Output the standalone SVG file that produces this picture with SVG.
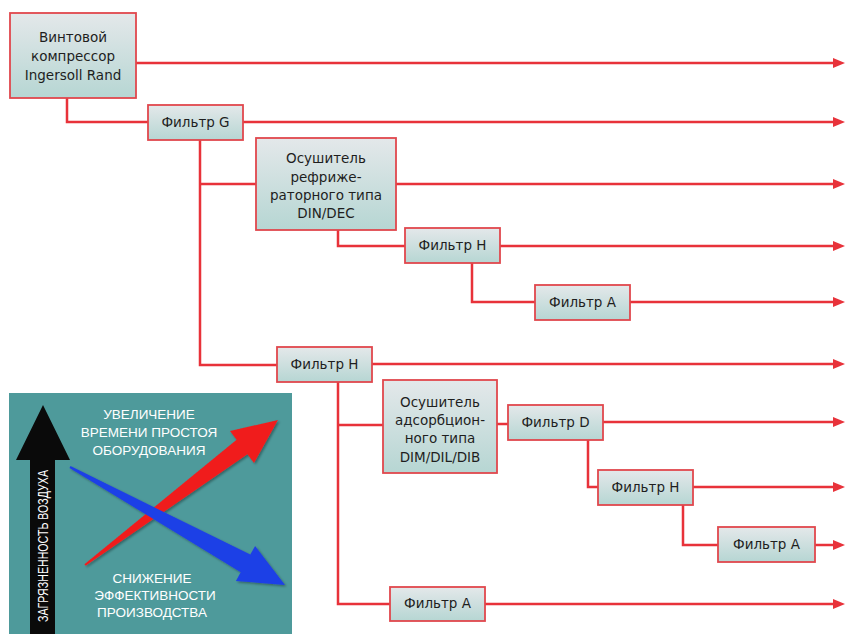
<svg xmlns="http://www.w3.org/2000/svg" width="845" height="634" viewBox="0 0 845 634">
<defs>
<linearGradient id="boxg" x1="0" y1="0" x2="0" y2="1">
<stop offset="0" stop-color="#e4e8ea"/>
<stop offset="1" stop-color="#b6d6d3"/>
</linearGradient>
<marker id="ah" markerUnits="userSpaceOnUse" markerWidth="12" markerHeight="10" refX="1" refY="5" orient="auto">
<path d="M0,0 L12,5 L0,10 Z" fill="#e8323a"/>
</marker>
<filter id="sh" x="-10%" y="-10%" width="130%" height="130%">
<feDropShadow dx="1.5" dy="1.5" stdDeviation="1" flood-color="#000" flood-opacity="0.35"/>
</filter>
</defs>
<style>
.box{fill:url(#boxg);stroke:#e0474d;stroke-width:1.8}
.t{font-family:"DejaVu Sans","Liberation Sans",Arial,sans-serif;font-size:13.5px;fill:#1e1e1e;text-anchor:middle}
.c{fill:none;stroke:#e8323a;stroke-width:2.5}
.a{marker-end:url(#ah)}
.w{font-family:"Liberation Sans",Arial,sans-serif;font-size:13.5px;fill:#fff;text-anchor:middle}
</style>
<rect width="845" height="634" fill="#fff"/>

<g id="connectors">
<path class="c a" d="M136,63 H834"/>
<path class="c" d="M67,98 V122 H148"/>
<path class="c a" d="M243,122 H834"/>
<path class="c" d="M200,140 V365 H277"/>
<path class="c" d="M200,184 H256"/>
<path class="c a" d="M396,184 H834"/>
<path class="c" d="M338,230 V246 H405"/>
<path class="c a" d="M500,246 H834"/>
<path class="c" d="M472,263 V302 H535"/>
<path class="c a" d="M630,302 H834"/>
<path class="c a" d="M372,364 H834"/>
<path class="c" d="M338,382 V604 H390"/>
<path class="c" d="M338,425 H383"/>
<path class="c" d="M497,424 H508"/>
<path class="c a" d="M603,422 H834"/>
<path class="c" d="M588,440 V487 H598"/>
<path class="c a" d="M693,487 H834"/>
<path class="c" d="M683,505 V545 H718"/>
<path class="c a" d="M815,545 H834"/>
<path class="c a" d="M485,604 H834"/>
</g>

<g id="compressor">
<rect class="box" x="10" y="13" width="126" height="85"/>
<text class="t" x="73" y="42">Винтовой</text>
<text class="t" x="73" y="61">компрессор</text>
<text class="t" x="73" y="80">Ingersoll Rand</text>
</g>
<g id="filterG">
<rect class="box" x="148" y="105" width="95" height="35"/>
<text class="t" x="195.5" y="127">Фильтр G</text>
</g>
<g id="dryerRefrig">
<rect class="box" x="256" y="138" width="140" height="92"/>
<text class="t" x="326" y="163">Осушитель</text>
<text class="t" x="326" y="182">рефриже-</text>
<text class="t" x="326" y="200">раторного типа</text>
<text class="t" x="326" y="218">DIN/DEC</text>
</g>
<g id="filterH1">
<rect class="box" x="405" y="228" width="95" height="35"/>
<text class="t" x="452.5" y="250">Фильтр H</text>
</g>
<g id="filterA1">
<rect class="box" x="535" y="285" width="95" height="35"/>
<text class="t" x="582.5" y="307">Фильтр A</text>
</g>
<g id="filterH2">
<rect class="box" x="277" y="347" width="95" height="35"/>
<text class="t" x="324.5" y="369">Фильтр H</text>
</g>
<g id="dryerAdsorb">
<rect class="box" x="383" y="380" width="114" height="93"/>
<text class="t" x="440" y="407">Осушитель</text>
<text class="t" x="440" y="425">адсорбцион-</text>
<text class="t" x="440" y="443">ного типа</text>
<text class="t" x="440" y="462">DIM/DIL/DIB</text>
</g>
<g id="filterD">
<rect class="box" x="508" y="405" width="95" height="35"/>
<text class="t" x="555.5" y="427">Фильтр D</text>
</g>
<g id="filterH3">
<rect class="box" x="598" y="470" width="95" height="35"/>
<text class="t" x="645.5" y="492">Фильтр H</text>
</g>
<g id="filterA2">
<rect class="box" x="718" y="527" width="97" height="35"/>
<text class="t" x="766.5" y="549">Фильтр A</text>
</g>
<g id="filterA3">
<rect class="box" x="390" y="587" width="95" height="34"/>
<text class="t" x="437.5" y="608">Фильтр A</text>
</g>

<g id="legend">
<rect x="9" y="393" width="283" height="241" fill="#4e9a9b"/>
<polygon points="30,634 30,460 16,460 43,405 70,460 55,460 55,634" fill="#0a0a0a"/>
<text class="w" transform="translate(48,546) rotate(-90)" textLength="152" lengthAdjust="spacingAndGlyphs" style="font-size:14px">ЗАГРЯЗНЕННОСТЬ ВОЗДУХА</text>
<g filter="url(#sh)">
<polygon points="84.4,564.2 236.6,439.8 230,431 278,420 254,463 247.4,454.2 85.6,565.8" fill="#f01e1e"/>
<polygon points="70.5,466.1 250.3,554.6 255.1,545.9 285,585 235.9,580.9 240.7,572.2 69.5,467.9" fill="#1f3fe6"/>
</g>
<text class="w" x="149" y="419">УВЕЛИЧЕНИЕ</text>
<text class="w" x="149" y="437">ВРЕМЕНИ ПРОСТОЯ</text>
<text class="w" x="149" y="455">ОБОРУДОВАНИЯ</text>
<text class="w" x="152" y="583">СНИЖЕНИЕ</text>
<text class="w" x="155" y="600">ЭФФЕКТИВНОСТИ</text>
<text class="w" x="152" y="617">ПРОИЗВОДСТВА</text>
</g>
</svg>
